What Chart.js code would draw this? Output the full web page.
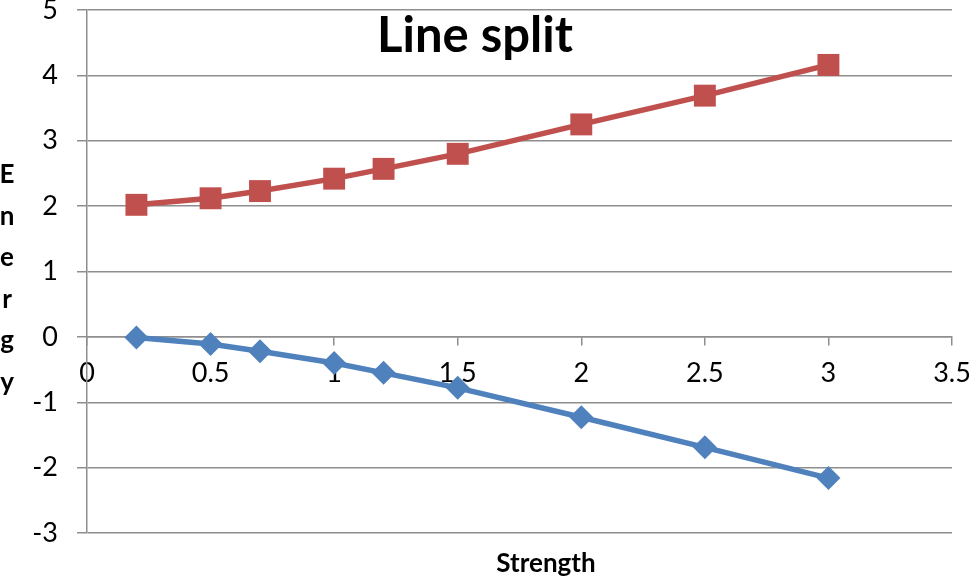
<!DOCTYPE html>
<html>
<head>
<meta charset="utf-8">
<script src="https://cdn.jsdelivr.net/npm/chart.js@4/dist/chart.umd.min.js"></script>
<style>
  html, body { margin: 0; padding: 0; background: #fff; }
  #wrap { width: 969px; height: 579px; position: relative; }
</style>
</head>
<body>
<div id="wrap"><canvas id="chart"></canvas></div>
<script>
// --- data ---
const strength = [0.2, 0.5, 0.7, 1.0, 1.2, 1.5, 2.0, 2.5, 3.0];
const upperEnergy = [2.02, 2.12, 2.23, 2.42, 2.57, 2.8, 3.25, 3.69, 4.16];
const lowerEnergy = [-0.01, -0.11, -0.22, -0.4, -0.55, -0.78, -1.23, -1.69, -2.16];

const titleText = "Line split";
const xTitle = "Strength";
const yTitle = "Energy";

const GRID = "#8e8e8e";
const FONT = "Lato, 'Open Sans', sans-serif";

// タイトルと軸ラベルを手描き（Excel風の配置）
const textPlugin = {
  id: "excelText",
  afterDraw(chart) {
    const ctx = chart.ctx;
    ctx.save();
    ctx.fillStyle = "#000";
    ctx.textAlign = "center";
    ctx.textBaseline = "alphabetic";

    ctx.font = "bold 49px " + FONT;
    ctx.fillText(titleText, 475, 52);

    ctx.font = "bold 26px " + FONT;
    ctx.fillText(xTitle, 546, 572);

    // 縦書き風に1文字ずつ
    yTitle.split("").forEach((ch, i) => {
      ctx.fillText(ch, 7, 183 + i * 41.5);
    });
    ctx.restore();
  }
};

const toPoints = ys => strength.map((x, i) => ({ x, y: ys[i] }));

// ラベルのはみ出し分の余白を消す
function noOverflowPadding(scale) {
  scale.paddingTop = 0;
  scale.paddingBottom = 0;
  scale.paddingLeft = 0;
  scale.paddingRight = 0;
}

new Chart(document.getElementById("chart"), {
  type: "line",
  data: {
    datasets: [
      {
        label: "upper",
        data: toPoints(upperEnergy),
        borderColor: "#C0504D",
        backgroundColor: "#C0504D",
        borderWidth: 5.5,
        pointStyle: "rect",
        pointRadius: 15.5,
        pointHoverRadius: 15.5,
        pointBorderWidth: 0,
        tension: 0
      },
      {
        label: "lower",
        data: toPoints(lowerEnergy),
        borderColor: "#4F81BD",
        backgroundColor: "#4F81BD",
        borderWidth: 5.5,
        pointStyle: "rectRot",
        pointRadius: 12,
        pointHoverRadius: 12,
        pointBorderWidth: 0,
        tension: 0
      }
    ]
  },
  options: {
    responsive: true,
    maintainAspectRatio: false,
    animation: false,
    devicePixelRatio: 1,
    layout: {
      autoPadding: false, // マーカー分の自動余白は不要
      padding: { left: 0, right: 17, top: 10, bottom: 46 }
    },
    plugins: {
      legend: { display: false },
      tooltip: { enabled: false }
    },
    scales: {
      x: {
        type: "linear",
        position: { y: 0 },
        min: 0,
        max: 3.5,
        ticks: {
          stepSize: 0.5,
          color: "#000",
          font: { family: FONT, size: 27 },
          padding: 12,
          maxRotation: 0,
          callback: v => String(v)
        },
        grid: {
          drawOnChartArea: false,
          drawTicks: true,
          tickLength: 8,
          color: GRID,
          lineWidth: 1.5
        },
        border: { display: true, color: GRID, width: 1.5 },
        afterFit: noOverflowPadding
      },
      y: {
        position: "left",
        min: -3,
        max: 5,
        ticks: {
          stepSize: 1,
          color: "#000",
          font: { family: FONT, size: 27 },
          padding: 19,
          callback: v => String(v)
        },
        grid: {
          color: GRID,
          lineWidth: 1.5,
          tickLength: 10
        },
        border: { display: true, color: GRID, width: 1.5 },
        afterFit(scale) {
          noOverflowPadding(scale);
          scale.width = 87;
        }
      }
    }
  },
  plugins: [textPlugin]
});
</script>
</body>
</html>
